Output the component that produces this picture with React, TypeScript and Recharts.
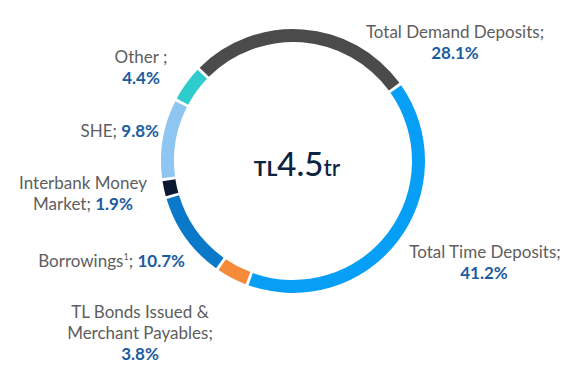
import React from "react";
import { PieChart, Pie, Cell } from "recharts";

const names = [
  "Total Demand Deposits",
  "Total Time Deposits",
  "TL Bonds Issued & Merchant Payables",
  "Borrowings",
  "Interbank Money Market",
  "SHE",
  "Other",
];
const values = [28.1, 41.2, 3.8, 10.7, 1.9, 9.8, 4.4];
const valueLabels = ["28.1%", "41.2%", "3.8%", "10.7%", "1.9%", "9.8%", "4.4%"];
const colors = ["#4b4b4b", "#079ff5", "#f58a3a", "#0a79c9", "#0b1832", "#8fc5f1", "#2ecccc"];

const data = names.map((n, i) => ({ name: n, value: values[i] }));

const GRAY = "#5e5e5e";
const BLUE = "#1c5ca0";
const FONT = "Lato, 'Liberation Sans', sans-serif";
const FS = 17;

type Line = { x: number; y: number; anchor: "start" | "middle" | "end"; parts: { t: string; bold?: boolean; sup?: boolean }[] };

const labelLayout: Line[][] = [
  [
    { x: 455, y: 38, anchor: "middle", parts: [{ t: "Total Demand Deposits;" }] },
    { x: 455, y: 59, anchor: "middle", parts: [{ t: valueLabels[0], bold: true }] },
  ],
  [
    { x: 485, y: 258, anchor: "middle", parts: [{ t: "Total Time Deposits;" }] },
    { x: 484, y: 279, anchor: "middle", parts: [{ t: valueLabels[1], bold: true }] },
  ],
  [
    { x: 140, y: 318, anchor: "middle", parts: [{ t: "TL Bonds Issued &" }] },
    { x: 140, y: 339, anchor: "middle", parts: [{ t: "Merchant Payables;" }] },
    { x: 140, y: 360, anchor: "middle", parts: [{ t: valueLabels[2], bold: true }] },
  ],
  [
    { x: 185, y: 267, anchor: "end", parts: [{ t: "Borrowings" }, { t: "1", sup: true }, { t: "; " }, { t: valueLabels[3], bold: true }] },
  ],
  [
    { x: 83, y: 189, anchor: "middle", parts: [{ t: "Interbank Money" }] },
    { x: 83, y: 210, anchor: "middle", parts: [{ t: "Market; " }, { t: valueLabels[4], bold: true }] },
  ],
  [
    { x: 159, y: 137, anchor: "end", parts: [{ t: "SHE; " }, { t: valueLabels[5], bold: true }] },
  ],
  [
    { x: 141, y: 63, anchor: "middle", parts: [{ t: "Other ;" }] },
    { x: 141, y: 84, anchor: "middle", parts: [{ t: valueLabels[6], bold: true }] },
  ],
];

const renderLabel = (props: any) => {
  const lines = labelLayout[props.index];
  if (!lines) return null;
  return (
    <g>
      {lines.map((ln, k) => (
        <text key={k} x={ln.x} y={ln.y} textAnchor={ln.anchor} fontFamily={FONT} fontSize={FS} fill={GRAY}>
          {ln.parts.map((p, j) =>
            p.sup ? (
              <tspan key={j} fontSize={9} dy={-7}>{p.t}</tspan>
            ) : (
              <tspan
                key={j}
                dy={j > 0 && ln.parts[j - 1].sup ? 7 : 0}
                fontWeight={p.bold ? 700 : 400}
                fill={p.bold ? BLUE : GRAY}
              >
                {p.t}
              </tspan>
            )
          )}
        </text>
      ))}
    </g>
  );
};

export default function App() {
  return (
    <div style={{ position: "absolute", left: 0, top: 0, width: 588, height: 382, background: "#fff" }}>
      <PieChart width={588} height={382} margin={{ top: 0, right: 0, bottom: 0, left: 0 }}>
        <Pie
          data={data}
          dataKey="value"
          nameKey="name"
          cx={293}
          cy={161}
          innerRadius={119}
          outerRadius={132}
          startAngle={135}
          endAngle={-225}
          paddingAngle={1.3}
          stroke="none"
          label={renderLabel}
          labelLine={false}
          isAnimationActive={false}
        >
          {data.map((d, i) => (
            <Cell key={d.name} fill={colors[i]} />
          ))}
        </Pie>
      </PieChart>
      <svg width={588} height={382} style={{ position: "absolute", left: 0, top: 0, pointerEvents: "none" }}>
        <text x={297} y={176} textAnchor="middle" fontFamily={FONT} fill="#0d2342">
          <tspan fontSize={21} fontWeight={700}>TL</tspan>
          <tspan fontSize={33} fontWeight={500}>4.5</tspan>
          <tspan fontSize={23} fontWeight={500}>tr</tspan>
        </text>
      </svg>
    </div>
  );
}
